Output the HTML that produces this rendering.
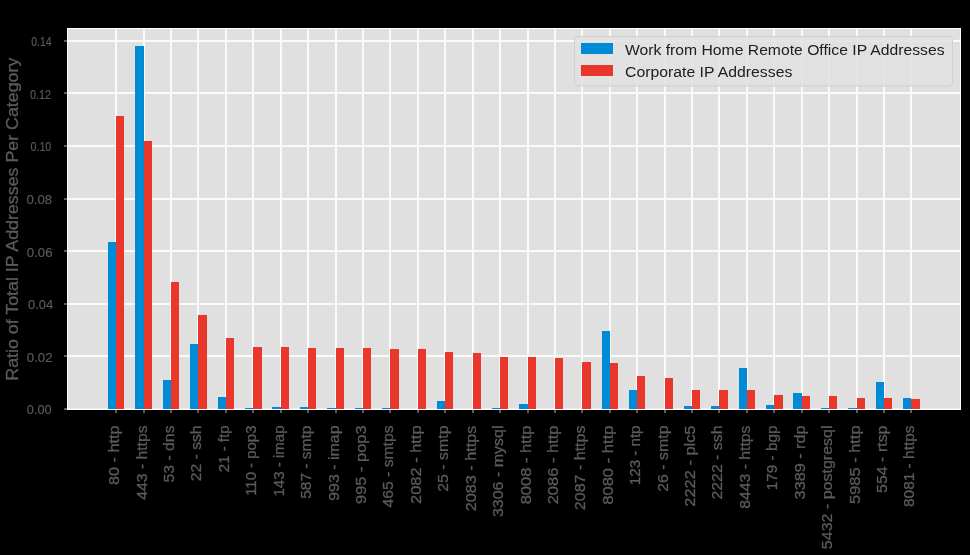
<!DOCTYPE html>
<html><head><meta charset="utf-8"><style>
html,body{margin:0;padding:0;background:#000;}
body{width:970px;height:555px;overflow:hidden;}
svg{display:block;will-change:transform;}
text{font-family:"Liberation Sans",sans-serif;}
.g{stroke:#5a5a5a;stroke-width:0.3;}
.g2{stroke:#5a5a5a;stroke-width:0.15;}
.d{}
</style></head><body>
<svg width="970" height="555" viewBox="0 0 970 555">
<rect x="0" y="0" width="970" height="555" fill="#000"/>
<rect x="67" y="28" width="894" height="382" fill="#fff"/>
<rect x="68" y="29" width="892" height="380" fill="#e0e0e0"/>

<rect x="68" y="408" width="892" height="1" fill="#ffffff" fill-opacity="0.35"/>
<rect x="68" y="355" width="892" height="2" fill="#fafafa"/>
<rect x="68" y="303" width="892" height="2" fill="#fafafa"/>
<rect x="68" y="250" width="892" height="2" fill="#fafafa"/>
<rect x="68" y="198" width="892" height="2" fill="#fafafa"/>
<rect x="68" y="145" width="892" height="2" fill="#fafafa"/>
<rect x="68" y="92" width="892" height="2" fill="#fafafa"/>
<rect x="68" y="40" width="892" height="2" fill="#fafafa"/>
<rect x="115" y="29" width="2" height="380" fill="#fafafa"/>
<rect x="143" y="29" width="2" height="380" fill="#fafafa"/>
<rect x="170" y="29" width="2" height="380" fill="#fafafa"/>
<rect x="197" y="29" width="2" height="380" fill="#fafafa"/>
<rect x="225" y="29" width="2" height="380" fill="#fafafa"/>
<rect x="252" y="29" width="2" height="380" fill="#fafafa"/>
<rect x="280" y="29" width="2" height="380" fill="#fafafa"/>
<rect x="307" y="29" width="2" height="380" fill="#fafafa"/>
<rect x="335" y="29" width="2" height="380" fill="#fafafa"/>
<rect x="362" y="29" width="2" height="380" fill="#fafafa"/>
<rect x="389" y="29" width="2" height="380" fill="#fafafa"/>
<rect x="417" y="29" width="2" height="380" fill="#fafafa"/>
<rect x="444" y="29" width="2" height="380" fill="#fafafa"/>
<rect x="472" y="29" width="2" height="380" fill="#fafafa"/>
<rect x="499" y="29" width="2" height="380" fill="#fafafa"/>
<rect x="527" y="29" width="2" height="380" fill="#fafafa"/>
<rect x="554" y="29" width="2" height="380" fill="#fafafa"/>
<rect x="581" y="29" width="2" height="380" fill="#fafafa"/>
<rect x="609" y="29" width="2" height="380" fill="#fafafa"/>
<rect x="636" y="29" width="2" height="380" fill="#fafafa"/>
<rect x="664" y="29" width="2" height="380" fill="#fafafa"/>
<rect x="691" y="29" width="2" height="380" fill="#fafafa"/>
<rect x="718" y="29" width="2" height="380" fill="#fafafa"/>
<rect x="746" y="29" width="2" height="380" fill="#fafafa"/>
<rect x="773" y="29" width="2" height="380" fill="#fafafa"/>
<rect x="801" y="29" width="2" height="380" fill="#fafafa"/>
<rect x="828" y="29" width="2" height="380" fill="#fafafa"/>
<rect x="856" y="29" width="2" height="380" fill="#fafafa"/>
<rect x="883" y="29" width="2" height="380" fill="#fafafa"/>
<rect x="910" y="29" width="2" height="380" fill="#fafafa"/>
<rect x="108" y="242" width="8" height="167" fill="#008bd6"/>
<rect x="116" y="116" width="8" height="293" fill="#e9372b"/>
<rect x="135" y="46" width="9" height="363" fill="#008bd6"/>
<rect x="144" y="141" width="8" height="268" fill="#e9372b"/>
<rect x="163" y="380" width="8" height="29" fill="#008bd6"/>
<rect x="171" y="282" width="8" height="127" fill="#e9372b"/>
<rect x="190" y="344" width="8" height="65" fill="#008bd6"/>
<rect x="198" y="315" width="9" height="94" fill="#e9372b"/>
<rect x="218" y="397" width="8" height="12" fill="#008bd6"/>
<rect x="226" y="338" width="8" height="71" fill="#e9372b"/>
<rect x="245" y="408" width="8" height="1" fill="#008bd6"/>
<rect x="253" y="347" width="9" height="62" fill="#e9372b"/>
<rect x="272" y="407" width="9" height="2" fill="#008bd6"/>
<rect x="281" y="347" width="8" height="62" fill="#e9372b"/>
<rect x="300" y="407" width="8" height="2" fill="#008bd6"/>
<rect x="308" y="348" width="8" height="61" fill="#e9372b"/>
<rect x="327" y="408" width="9" height="1" fill="#008bd6"/>
<rect x="336" y="348" width="8" height="61" fill="#e9372b"/>
<rect x="355" y="408" width="8" height="1" fill="#008bd6"/>
<rect x="363" y="348" width="8" height="61" fill="#e9372b"/>
<rect x="382" y="408" width="8" height="1" fill="#008bd6"/>
<rect x="390" y="349" width="9" height="60" fill="#e9372b"/>
<rect x="418" y="349" width="8" height="60" fill="#e9372b"/>
<rect x="437" y="401" width="8" height="8" fill="#008bd6"/>
<rect x="445" y="352" width="8" height="57" fill="#e9372b"/>
<rect x="473" y="353" width="8" height="56" fill="#e9372b"/>
<rect x="492" y="408" width="8" height="1" fill="#008bd6"/>
<rect x="500" y="357" width="8" height="52" fill="#e9372b"/>
<rect x="519" y="404" width="9" height="5" fill="#008bd6"/>
<rect x="528" y="357" width="8" height="52" fill="#e9372b"/>
<rect x="555" y="358" width="8" height="51" fill="#e9372b"/>
<rect x="582" y="362" width="9" height="47" fill="#e9372b"/>
<rect x="602" y="331" width="8" height="78" fill="#008bd6"/>
<rect x="610" y="363" width="8" height="46" fill="#e9372b"/>
<rect x="629" y="390" width="8" height="19" fill="#008bd6"/>
<rect x="637" y="376" width="8" height="33" fill="#e9372b"/>
<rect x="665" y="378" width="8" height="31" fill="#e9372b"/>
<rect x="684" y="406" width="8" height="3" fill="#008bd6"/>
<rect x="692" y="390" width="8" height="19" fill="#e9372b"/>
<rect x="711" y="406" width="8" height="3" fill="#008bd6"/>
<rect x="719" y="390" width="9" height="19" fill="#e9372b"/>
<rect x="739" y="368" width="8" height="41" fill="#008bd6"/>
<rect x="747" y="390" width="8" height="19" fill="#e9372b"/>
<rect x="766" y="405" width="8" height="4" fill="#008bd6"/>
<rect x="774" y="395" width="9" height="14" fill="#e9372b"/>
<rect x="793" y="393" width="9" height="16" fill="#008bd6"/>
<rect x="802" y="396" width="8" height="13" fill="#e9372b"/>
<rect x="821" y="408" width="8" height="1" fill="#008bd6"/>
<rect x="829" y="396" width="8" height="13" fill="#e9372b"/>
<rect x="848" y="408" width="9" height="1" fill="#008bd6"/>
<rect x="857" y="398" width="8" height="11" fill="#e9372b"/>
<rect x="876" y="382" width="8" height="27" fill="#008bd6"/>
<rect x="884" y="398" width="8" height="11" fill="#e9372b"/>
<rect x="903" y="398" width="8" height="11" fill="#008bd6"/>
<rect x="911" y="399" width="9" height="10" fill="#e9372b"/>
<rect x="64" y="408" width="3" height="2" fill="#5a5a5a"/>
<text x="51.50" y="413.60" font-size="12.3" class="g2" fill="#5a5a5a" text-anchor="end" textLength="24.64" lengthAdjust="spacingAndGlyphs">0.00</text>
<rect x="64" y="355" width="3" height="2" fill="#5a5a5a"/>
<text x="52.50" y="362.30" font-size="12.3" class="g2" fill="#5a5a5a" text-anchor="end" textLength="25.71" lengthAdjust="spacingAndGlyphs">0.02</text>
<rect x="64" y="303" width="3" height="2" fill="#5a5a5a"/>
<text x="53.20" y="308.60" font-size="12.3" class="g2" fill="#5a5a5a" text-anchor="end" textLength="25.24" lengthAdjust="spacingAndGlyphs">0.04</text>
<rect x="64" y="250" width="3" height="2" fill="#5a5a5a"/>
<text x="52.50" y="257.30" font-size="12.3" class="g2" fill="#5a5a5a" text-anchor="end" textLength="25.71" lengthAdjust="spacingAndGlyphs">0.06</text>
<rect x="64" y="198" width="3" height="2" fill="#5a5a5a"/>
<text x="52.10" y="204.00" font-size="12.3" class="g2" fill="#5a5a5a" text-anchor="end" textLength="25.62" lengthAdjust="spacingAndGlyphs">0.08</text>
<rect x="64" y="145" width="3" height="2" fill="#5a5a5a"/>
<text x="51.30" y="150.85" font-size="12.3" class="g2" fill="#5a5a5a" text-anchor="end" textLength="20.77" lengthAdjust="spacingAndGlyphs">0.10</text>
<rect x="64" y="92" width="3" height="2" fill="#5a5a5a"/>
<text x="51.10" y="99.15" font-size="12.3" class="g2" fill="#5a5a5a" text-anchor="end" textLength="21.16" lengthAdjust="spacingAndGlyphs">0.12</text>
<rect x="64" y="40" width="3" height="2" fill="#5a5a5a"/>
<text x="51.50" y="46.05" font-size="12.3" class="g2" fill="#5a5a5a" text-anchor="end" textLength="20.28" lengthAdjust="spacingAndGlyphs">0.14</text>
<rect x="115" y="410" width="2" height="3" fill="#5a5a5a"/>
<text transform="translate(119.20,425.50) rotate(-90)" font-size="14.8" class="g" fill="#5a5a5a" text-anchor="end" textLength="59.63" lengthAdjust="spacingAndGlyphs">80 - http</text>
<rect x="143" y="410" width="2" height="3" fill="#5a5a5a"/>
<text transform="translate(146.62,425.50) rotate(-90)" font-size="14.8" class="g" fill="#5a5a5a" text-anchor="end" textLength="74.22" lengthAdjust="spacingAndGlyphs">443 - https</text>
<rect x="170" y="410" width="2" height="3" fill="#5a5a5a"/>
<text transform="translate(174.04,425.50) rotate(-90)" font-size="14.8" class="g" fill="#5a5a5a" text-anchor="end" textLength="56.91" lengthAdjust="spacingAndGlyphs">53 - dns</text>
<rect x="197" y="410" width="2" height="3" fill="#5a5a5a"/>
<text transform="translate(201.46,425.50) rotate(-90)" font-size="14.8" class="g" fill="#5a5a5a" text-anchor="end" textLength="55.68" lengthAdjust="spacingAndGlyphs">22 - ssh</text>
<rect x="225" y="410" width="2" height="3" fill="#5a5a5a"/>
<text transform="translate(228.88,425.50) rotate(-90)" font-size="14.8" class="g" fill="#5a5a5a" text-anchor="end" textLength="46.69" lengthAdjust="spacingAndGlyphs">21 - ftp</text>
<rect x="252" y="410" width="2" height="3" fill="#5a5a5a"/>
<text transform="translate(256.30,425.50) rotate(-90)" font-size="14.8" class="g" fill="#5a5a5a" text-anchor="end" textLength="70.39" lengthAdjust="spacingAndGlyphs">110 - pop3</text>
<rect x="280" y="410" width="2" height="3" fill="#5a5a5a"/>
<text transform="translate(283.72,425.50) rotate(-90)" font-size="14.8" class="g" fill="#5a5a5a" text-anchor="end" textLength="71.04" lengthAdjust="spacingAndGlyphs">143 - imap</text>
<rect x="307" y="410" width="2" height="3" fill="#5a5a5a"/>
<text transform="translate(311.14,425.50) rotate(-90)" font-size="14.8" class="g" fill="#5a5a5a" text-anchor="end" textLength="73.35" lengthAdjust="spacingAndGlyphs">587 - smtp</text>
<rect x="335" y="410" width="2" height="3" fill="#5a5a5a"/>
<text transform="translate(338.56,425.50) rotate(-90)" font-size="14.8" class="g" fill="#5a5a5a" text-anchor="end" textLength="75.29" lengthAdjust="spacingAndGlyphs">993 - imap</text>
<rect x="362" y="410" width="2" height="3" fill="#5a5a5a"/>
<text transform="translate(365.98,425.50) rotate(-90)" font-size="14.8" class="g" fill="#5a5a5a" text-anchor="end" textLength="78.45" lengthAdjust="spacingAndGlyphs">995 - pop3</text>
<rect x="389" y="410" width="2" height="3" fill="#5a5a5a"/>
<text transform="translate(393.40,425.50) rotate(-90)" font-size="14.8" class="g" fill="#5a5a5a" text-anchor="end" textLength="82.03" lengthAdjust="spacingAndGlyphs">465 - smtps</text>
<rect x="417" y="410" width="2" height="3" fill="#5a5a5a"/>
<text transform="translate(420.82,425.50) rotate(-90)" font-size="14.8" class="g" fill="#5a5a5a" text-anchor="end" textLength="78.43" lengthAdjust="spacingAndGlyphs">2082 - http</text>
<rect x="444" y="410" width="2" height="3" fill="#5a5a5a"/>
<text transform="translate(448.24,425.50) rotate(-90)" font-size="14.8" class="g" fill="#5a5a5a" text-anchor="end" textLength="66.24" lengthAdjust="spacingAndGlyphs">25 - smtp</text>
<rect x="472" y="410" width="2" height="3" fill="#5a5a5a"/>
<text transform="translate(475.66,425.50) rotate(-90)" font-size="14.8" class="g" fill="#5a5a5a" text-anchor="end" textLength="85.77" lengthAdjust="spacingAndGlyphs">2083 - https</text>
<rect x="499" y="410" width="2" height="3" fill="#5a5a5a"/>
<text transform="translate(503.08,425.50) rotate(-90)" font-size="14.8" class="g" fill="#5a5a5a" text-anchor="end" textLength="91.58" lengthAdjust="spacingAndGlyphs">3306 - mysql</text>
<rect x="527" y="410" width="2" height="3" fill="#5a5a5a"/>
<text transform="translate(530.50,425.50) rotate(-90)" font-size="14.8" class="g" fill="#5a5a5a" text-anchor="end" textLength="78.84" lengthAdjust="spacingAndGlyphs">8008 - http</text>
<rect x="554" y="410" width="2" height="3" fill="#5a5a5a"/>
<text transform="translate(557.92,425.50) rotate(-90)" font-size="14.8" class="g" fill="#5a5a5a" text-anchor="end" textLength="78.84" lengthAdjust="spacingAndGlyphs">2086 - http</text>
<rect x="581" y="410" width="2" height="3" fill="#5a5a5a"/>
<text transform="translate(585.34,425.50) rotate(-90)" font-size="14.8" class="g" fill="#5a5a5a" text-anchor="end" textLength="84.65" lengthAdjust="spacingAndGlyphs">2087 - https</text>
<rect x="609" y="410" width="2" height="3" fill="#5a5a5a"/>
<text transform="translate(612.76,425.50) rotate(-90)" font-size="14.8" class="g" fill="#5a5a5a" text-anchor="end" textLength="79.34" lengthAdjust="spacingAndGlyphs">8080 - http</text>
<rect x="636" y="410" width="2" height="3" fill="#5a5a5a"/>
<text transform="translate(640.18,425.50) rotate(-90)" font-size="14.8" class="g" fill="#5a5a5a" text-anchor="end" textLength="59.66" lengthAdjust="spacingAndGlyphs">123 - ntp</text>
<rect x="664" y="410" width="2" height="3" fill="#5a5a5a"/>
<text transform="translate(667.60,425.50) rotate(-90)" font-size="14.8" class="g" fill="#5a5a5a" text-anchor="end" textLength="66.24" lengthAdjust="spacingAndGlyphs">26 - smtp</text>
<rect x="691" y="410" width="2" height="3" fill="#5a5a5a"/>
<text transform="translate(695.02,425.50) rotate(-90)" font-size="14.8" class="g" fill="#5a5a5a" text-anchor="end" textLength="81.16" lengthAdjust="spacingAndGlyphs">2222 - plc5</text>
<rect x="718" y="410" width="2" height="3" fill="#5a5a5a"/>
<text transform="translate(722.44,425.50) rotate(-90)" font-size="14.8" class="g" fill="#5a5a5a" text-anchor="end" textLength="74.08" lengthAdjust="spacingAndGlyphs">2222 - ssh</text>
<rect x="746" y="410" width="2" height="3" fill="#5a5a5a"/>
<text transform="translate(749.86,425.50) rotate(-90)" font-size="14.8" class="g" fill="#5a5a5a" text-anchor="end" textLength="83.34" lengthAdjust="spacingAndGlyphs">8443 - https</text>
<rect x="773" y="410" width="2" height="3" fill="#5a5a5a"/>
<text transform="translate(777.28,425.50) rotate(-90)" font-size="14.8" class="g" fill="#5a5a5a" text-anchor="end" textLength="64.69" lengthAdjust="spacingAndGlyphs">179 - bgp</text>
<rect x="801" y="410" width="2" height="3" fill="#5a5a5a"/>
<text transform="translate(804.70,425.50) rotate(-90)" font-size="14.8" class="g" fill="#5a5a5a" text-anchor="end" textLength="73.90" lengthAdjust="spacingAndGlyphs">3389 - rdp</text>
<rect x="828" y="410" width="2" height="3" fill="#5a5a5a"/>
<text transform="translate(832.12,425.50) rotate(-90)" font-size="14.8" class="g" fill="#5a5a5a" text-anchor="end" textLength="123.66" lengthAdjust="spacingAndGlyphs">5432 - postgresql</text>
<rect x="856" y="410" width="2" height="3" fill="#5a5a5a"/>
<text transform="translate(859.54,425.50) rotate(-90)" font-size="14.8" class="g" fill="#5a5a5a" text-anchor="end" textLength="78.43" lengthAdjust="spacingAndGlyphs">5985 - http</text>
<rect x="883" y="410" width="2" height="3" fill="#5a5a5a"/>
<text transform="translate(886.96,425.50) rotate(-90)" font-size="14.8" class="g" fill="#5a5a5a" text-anchor="end" textLength="67.46" lengthAdjust="spacingAndGlyphs">554 - rtsp</text>
<rect x="910" y="410" width="2" height="3" fill="#5a5a5a"/>
<text transform="translate(914.38,425.50) rotate(-90)" font-size="14.8" class="g" fill="#5a5a5a" text-anchor="end" textLength="81.51" lengthAdjust="spacingAndGlyphs">8081 - https</text>
<text transform="translate(18,219.2) rotate(-90)" font-size="16" class="g" fill="#5a5a5a" text-anchor="middle" textLength="322.98" lengthAdjust="spacingAndGlyphs">Ratio of Total IP Addresses Per Category</text>
<rect x="574.5" y="36.5" width="378" height="49.5" rx="3.5" ry="3.5" fill="#e0e0e0" fill-opacity="0.85" stroke="#d0d0d0" stroke-width="1"/>
<rect x="581" y="43" width="32" height="11" fill="#008bd6"/>
<rect x="581" y="65" width="32" height="11" fill="#e9372b"/>
<text x="625" y="54.8" font-size="15.2" class="d" fill="#202020" textLength="319.55" lengthAdjust="spacingAndGlyphs">Work from Home Remote Office IP Addresses</text>
<text x="625" y="76.8" font-size="15.2" class="d" fill="#202020" textLength="167.33" lengthAdjust="spacingAndGlyphs">Corporate IP Addresses</text>
</svg></body></html>
